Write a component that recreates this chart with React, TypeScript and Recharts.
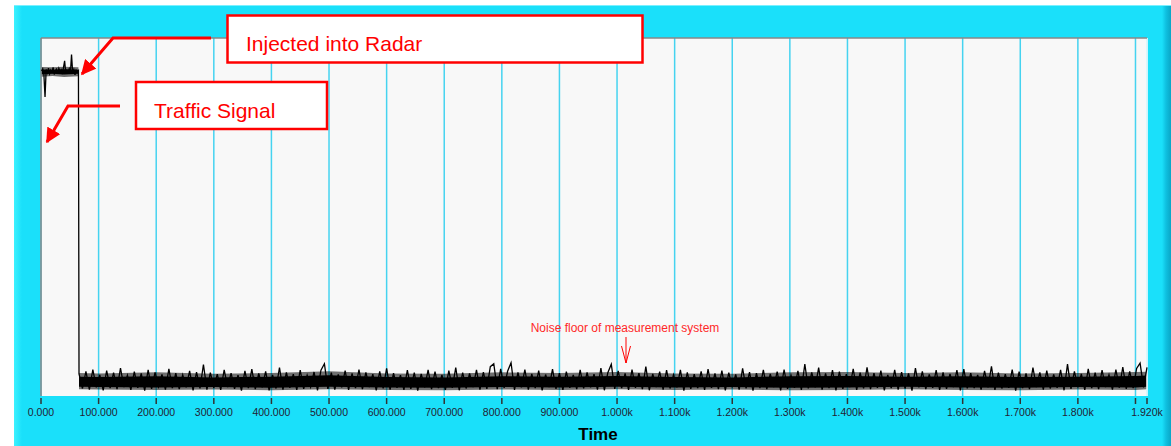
import { Area, CartesianGrid, ComposedChart, Line, ReferenceLine, XAxis, YAxis } from "recharts";

// time axis ticks (x1000 shown as "k")
const tickValues = [0, 100, 200, 300, 400, 500, 600, 700, 800, 900, 1000, 1100, 1200, 1300, 1400, 1500, 1600, 1700, 1800, 1900, 1920];
const tickLabels = [
  "0.000", "100.000", "200.000", "300.000", "400.000", "500.000", "600.000", "700.000", "800.000", "900.000",
  "1.000k", "1.100k", "1.200k", "1.300k", "1.400k", "1.500k", "1.600k", "1.700k", "1.800k", "", "1.920k",
];

// signal while the traffic signal is injected into the radar (t = 1..65, step 2)
const injectedStart = 1;
const injectedStep = 2;
const injectedLevel = [
  90.8, 91.4, 89.9, 83.5, 91.2, 90.3, 91.6, 90.0, 91.0, 90.4, 91.8, 89.8, 90.9, 91.3, 90.1, 91.5, 90.6,
  91.1, 89.9, 91.7, 93.6, 90.2, 91.0, 90.5, 91.4, 90.0, 95.4, 90.3, 91.2, 89.7, 91.0, 90.6, 90.9,
];

// injected trace envelopes: solid core and fuzzy outer edge
const injectedBandTime = [1, 20, 40, 65];
const injectedCoreLow = [89.9, 90.0, 89.8, 90.0];
const injectedCoreHigh = [91.2, 91.1, 91.3, 91.1];
const injectedOuterLow = [89.2, 89.4, 89.1, 89.3];
const injectedOuterHigh = [91.9, 91.8, 92.0, 91.8];

// noise floor of the measurement system, peaks and dips (t = 66..1920, step 6)
const noiseStart = 66;
const noiseStep = 6;
const noiseFloor = [
  6.2, 2.1, 6.9, 1.8, 7.4, 2.4, 5.9, 1.6, 7.1, 2.2,
  6.5, 1.9, 7.8, 2.5, 5.8, 1.7, 6.8, 2.3, 6.3, 1.5,
  7.3, 2.0, 6.6, 2.6, 6.0, 1.8, 7.6, 2.2, 6.4, 1.9,
  5.9, 2.4, 7.0, 1.6, 6.7, 2.1, 8.8, 1.8, 6.5, 2.3,
  6.1, 1.7, 7.3, 2.5, 6.4, 2.0, 5.8, 1.5, 7.0, 2.2,
  7.5, 1.9, 6.3, 2.4, 6.9, 1.6, 5.9, 2.1, 7.9, 1.8,
  6.6, 2.3, 6.1, 1.7, 7.2, 2.0, 5.8, 2.5, 6.7, 1.6,
  7.2, 9.0, 2.0, 6.5, 1.8, 6.0, 2.4, 7.1, 1.7, 6.3,
  2.2, 7.4, 1.9, 6.6, 2.5, 6.1, 1.6, 6.9, 2.1, 7.7,
  1.8, 6.4, 2.3, 5.8, 1.7, 7.2, 2.0, 6.5, 1.5, 6.2,
  2.4, 7.3, 1.9, 6.8, 2.2, 5.9, 1.7, 7.1, 2.3, 7.9,
  1.6, 6.5, 2.1, 6.3, 2.5, 7.3, 1.8, 6.7, 2.0, 8.2,
  9.0, 1.9, 7.6, 2.3, 6.9, 9.3, 1.7, 6.6, 2.4, 7.4,
  1.8, 6.2, 2.2, 7.1, 1.6, 6.0, 2.5, 7.5, 2.0, 6.4,
  1.7, 6.8, 2.3, 5.9, 1.9, 7.3, 2.1, 6.6, 2.4, 6.1,
  1.8, 7.8, 1.6, 6.5, 8.9, 2.0, 7.0, 2.2, 6.3, 1.7,
  7.4, 2.3, 6.4, 1.9, 8.2, 1.6, 6.2, 2.5, 6.8, 1.8,
  7.2, 2.1, 5.9, 2.4, 7.3, 1.5, 6.6, 2.0, 6.1, 2.2,
  6.9, 1.7, 7.5, 2.3, 6.3, 1.9, 7.1, 1.6, 6.5, 2.4,
  6.0, 1.8, 7.7, 2.1, 6.7, 1.5, 6.4, 2.2, 7.3, 1.9,
  6.2, 2.5, 6.8, 1.6, 7.4, 2.0, 5.8, 2.3, 7.0, 1.7,
  8.9, 2.1, 6.6, 2.4, 7.9, 1.8, 6.3, 2.2, 7.2, 1.6,
  6.8, 2.0, 6.1, 2.5, 7.6, 1.7, 6.5, 2.1, 8.0, 1.9,
  6.4, 2.3, 7.1, 1.6, 5.9, 2.2, 7.3, 1.8, 6.7, 2.1,
  6.3, 1.5, 7.8, 2.4, 6.9, 1.9, 6.0, 2.3, 7.2, 1.7,
  6.6, 2.0, 6.2, 2.5, 7.2, 1.6, 7.5, 2.1, 6.4, 2.2,
  5.9, 1.8, 7.0, 2.4, 8.3, 1.7, 6.5, 2.1, 6.1, 2.3,
  7.4, 1.5, 6.8, 2.2, 6.3, 1.9, 7.9, 2.5, 6.6, 1.8,
  7.1, 2.1, 6.0, 2.3, 7.3, 1.6, 8.9, 2.0, 6.9, 2.4,
  6.2, 1.7, 7.6, 2.2, 6.5, 1.9, 7.2, 2.5, 5.9, 1.8,
  7.4, 2.3, 8.1, 2.0, 6.9, 2.2, 7.7, 9.2, 2.4, 8.0,
];

// noise trace envelopes: solid core and fuzzy outer edge
const noiseBandTime = [66, 100, 200, 300, 400, 500, 600, 700, 800, 900, 1000, 1100, 1200, 1300, 1400, 1500, 1600, 1700, 1800, 1900, 1920];
const noiseCoreLow = [2.6, 2.5, 2.4, 2.5, 2.3, 2.6, 2.4, 2.3, 2.5, 2.4, 2.6, 2.4, 2.5, 2.3, 2.4, 2.6, 2.4, 2.3, 2.5, 2.4, 2.6];
const noiseCoreHigh = [5.4, 5.3, 5.5, 5.2, 5.4, 5.8, 5.3, 5.2, 5.5, 5.4, 5.6, 5.3, 5.2, 5.5, 5.6, 5.4, 5.5, 5.3, 5.4, 5.6, 5.7];
const noiseOuterLow = [1.9, 1.8, 1.7, 1.8, 1.6, 1.9, 1.7, 1.6, 1.8, 1.7, 1.9, 1.7, 1.8, 1.6, 1.7, 1.9, 1.7, 1.6, 1.8, 1.7, 1.9];
const noiseOuterHigh = [6.4, 6.3, 6.6, 6.2, 6.4, 6.9, 6.3, 6.2, 6.6, 6.4, 6.7, 6.3, 6.2, 6.6, 6.7, 6.4, 6.6, 6.3, 6.4, 6.7, 6.8];

const signal = [
  ...injectedLevel.map((v, i) => ({ t: injectedStart + i * injectedStep, v })),
  ...noiseFloor.map((v, i) => ({ t: noiseStart + i * noiseStep, v })),
];
const band = (time: number[], low: number[], high: number[]) =>
  time.map((t, i) => ({ t, range: [low[i], high[i]] }));
const injectedCore = band(injectedBandTime, injectedCoreLow, injectedCoreHigh);
const injectedOuter = band(injectedBandTime, injectedOuterLow, injectedOuterHigh);
const noiseCore = band(noiseBandTime, noiseCoreLow, noiseCoreHigh);
const noiseOuter = band(noiseBandTime, noiseOuterLow, noiseOuterHigh);

const CYAN = "#1ae0fa";
const FONT = "'Liberation Sans', Arial, sans-serif";

function TimeTick(props: any) {
  const { x, y, payload } = props;
  const label = tickLabels[tickValues.indexOf(payload.value)];
  return (
    <g>
      <line x1={x} x2={x} y1={y + 2} y2={y + 8} stroke="#333" strokeWidth={1.5} />
      {label ? (
        <text x={x} y={y + 20} textAnchor="middle" fontSize={10.5} fill="#223" fontFamily={FONT}>
          {label}
        </text>
      ) : null}
    </g>
  );
}

export default function App() {
  return (
    <div style={{ position: "absolute", left: 0, top: 0, width: 1171, height: 446, background: "#fff", overflow: "hidden" }}>
      <div
        style={{
          position: "absolute",
          left: 14,
          top: 5,
          width: 1157,
          height: 441,
          background: `linear-gradient(to right, #3cf2ff 0px, ${CYAN} 8px, ${CYAN} 1148px, #0fc0e0 1152px, #0aa6c6 1157px)`,
          borderTop: "1px solid #7af0ff",
        }}
      />
      <div style={{ position: "absolute", left: 0, top: 0 }}>
        <ComposedChart width={1171} height={446} data={signal} margin={{ top: 38, right: 24, bottom: 20, left: 41 }}>
          <CartesianGrid horizontal={false} stroke="#45d3f0" strokeWidth={1.5} fill="#f8f8f8" fillOpacity={1} />
          <XAxis
            dataKey="t"
            type="number"
            domain={[0, 1920]}
            ticks={tickValues}
            interval={0}
            height={30}
            axisLine={false}
            tickLine={false}
            tickSize={0}
            tickMargin={0}
            tick={<TimeTick />}
          />
          <YAxis type="number" domain={[0, 100]} hide />
          <ReferenceLine x={0} stroke="#888" strokeWidth={1.5} />
          <ReferenceLine x={1920} stroke="#fff" strokeWidth={1.5} />
          <ReferenceLine y={100} stroke="#888" strokeWidth={1.5} />
          <Area data={injectedOuter} dataKey="range" type="linear" stroke="none" fill="#000" fillOpacity={0.55} isAnimationActive={false} />
          <Area data={noiseOuter} dataKey="range" type="linear" stroke="none" fill="#000" fillOpacity={0.55} isAnimationActive={false} />
          <Area data={injectedCore} dataKey="range" type="linear" stroke="none" fill="#000" fillOpacity={1} isAnimationActive={false} />
          <Area data={noiseCore} dataKey="range" type="linear" stroke="none" fill="#000" fillOpacity={1} isAnimationActive={false} />
          <Line dataKey="v" type="linear" stroke="#000" strokeWidth={1.3} dot={false} isAnimationActive={false} />
        </ComposedChart>
      </div>
      <svg width={1171} height={446} style={{ position: "absolute", left: 0, top: 0, pointerEvents: "none" }}>
        <defs>
          <marker id="head" viewBox="0 0 10 10" refX="9" refY="5" markerWidth="5" markerHeight="5" orient="auto">
            <path d="M0,0 L10,5 L0,10 z" fill="#f00" />
          </marker>
        </defs>
        {/* Injected into Radar */}
        <rect x={227.5} y={15.5} width={415} height={47} fill="#fff" stroke="#f00" strokeWidth={2.5} />
        <text x={246} y={51} fontSize={21} fill="#f00" fontFamily={FONT}>Injected into Radar</text>
        <polyline points="211,38 113,38 82,74" fill="none" stroke="#f00" strokeWidth={3} markerEnd="url(#head)" />
        {/* Traffic Signal */}
        <rect x={136} y={82} width={191} height={47} fill="#fff" stroke="#f00" strokeWidth={2.5} />
        <text x={154} y={118} fontSize={21} fill="#f00" fontFamily={FONT}>Traffic Signal</text>
        <polyline points="120,106 68,106 47,142" fill="none" stroke="#f00" strokeWidth={3} markerEnd="url(#head)" />
        {/* noise floor note */}
        <text x={625} y={332} textAnchor="middle" fontSize={12} fill="#ff2828" fontFamily={FONT}>
          Noise floor of measurement system
        </text>
        <line x1={626} y1={337} x2={626} y2={363} stroke="#f00" strokeWidth={1} />
        <polyline points="621.5,346 626,363 630.5,346" fill="none" stroke="#f00" strokeWidth={1} />
        <text x={598} y={440} textAnchor="middle" fontSize={17} fontWeight="bold" fill="#000" fontFamily={FONT}>
          Time
        </text>
      </svg>
    </div>
  );
}
